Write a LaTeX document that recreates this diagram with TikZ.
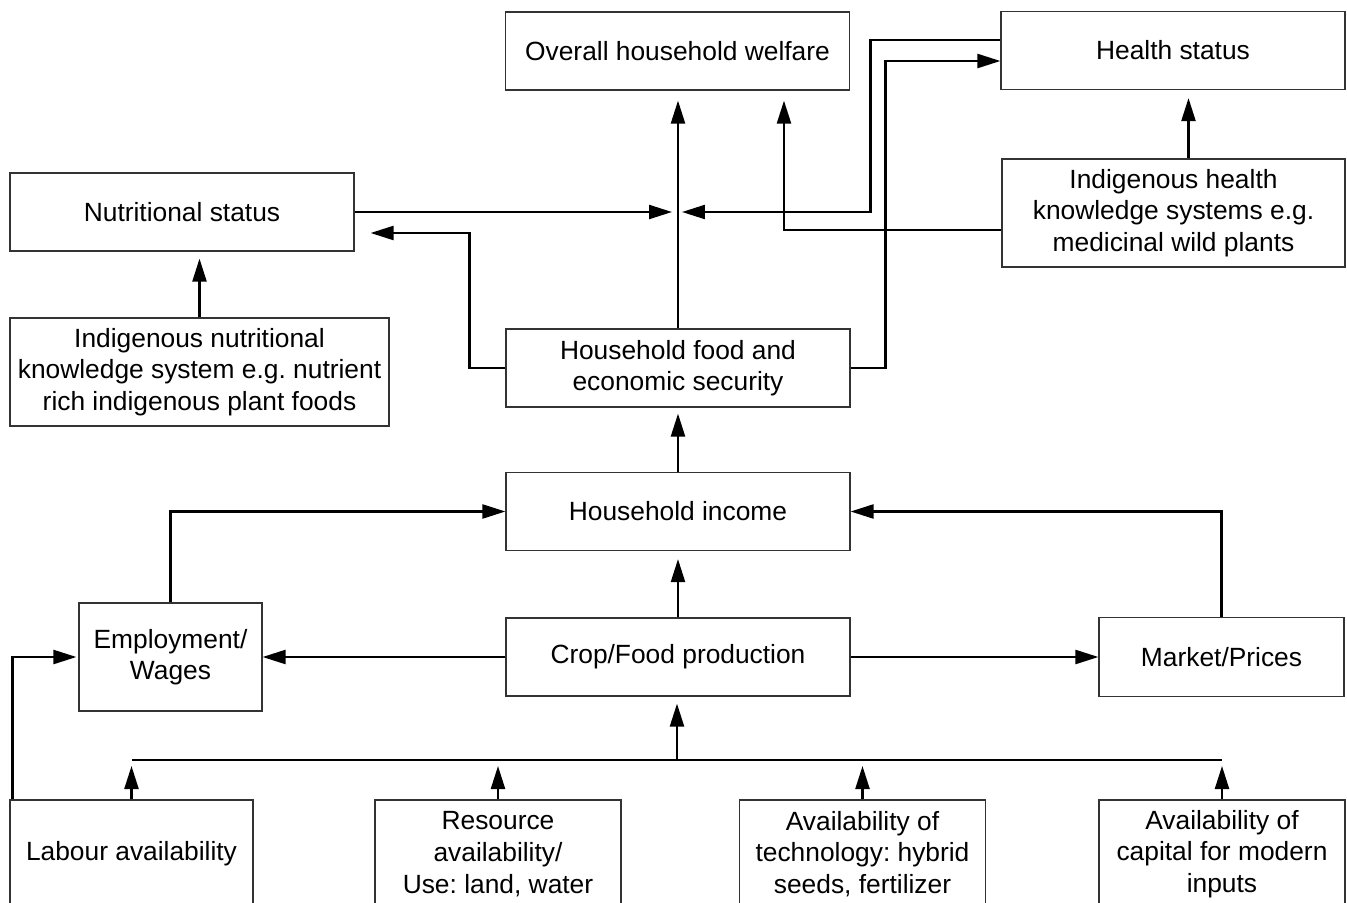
\documentclass[tikz,border=0pt]{standalone}
\usepackage{fontspec}
\setmainfont{Liberation Sans}
\usetikzlibrary{arrows.meta,calc,positioning}
\frenchspacing

\begin{document}
\begin{tikzpicture}[x=0.02cm,y=-0.02cm,>={Triangle[length=4.6mm,width=2.8mm]},
  blk/.style={draw=black!80,line width=0.7pt,align=center,inner sep=0pt,font=\fontsize{15}{18}\selectfont},
  wide/.style={blk,minimum width=6.88cm,minimum height=1.56cm},
  tall/.style={blk,minimum height=2.16cm},
  link/.style={->,line width=1.3pt}]
\useasboundingbox (0,0) rectangle (1347,903);
% top of the chain
\node[wide] (welfare) at (677.5,51) {Overall household welfare};
\node[wide] (health) at (1173,50.5) {Health status};
\node[wide] (nutri) at (182,212) {Nutritional status};
\node[tall,minimum width=6.86cm] (ihealth) at (1173.5,213) {Indigenous health\\knowledge systems e.g.\\medicinal wild plants};
\node[tall,minimum width=7.58cm] (inutri) at (199.5,372) {Indigenous nutritional\\knowledge system e.g. nutrient\\rich indigenous plant foods};
\node[wide] (food) at (678,368) {Household food and\\economic security};
% middle
\node[wide] (income) at (678,511.5) {Household income};
\node[tall,minimum width=3.66cm] (employ) at (170.5,657) {Employment/\\Wages};
\node[wide] (crop) at (678,657) {Crop/Food production};
\node[blk,minimum width=4.9cm,minimum height=1.58cm] (market) at (1221.5,657) {Market/Prices};
% inputs
\node[tall,minimum width=4.86cm] (labour) at (131.5,854) {Labour availability};
\node[tall,minimum width=4.92cm] (resource) at (498,854) {Resource\\availability/\\Use: land, water};
\node[tall,minimum width=4.92cm] (tech) at (862.5,854) {Availability of\\technology: hybrid\\seeds, fertilizer};
\node[tall,minimum width=4.92cm] (capital) at (1222,854) {Availability of\\capital for modern\\inputs};
\coordinate (hub) at (677,212);
\coordinate (bus) at (677,760);

\draw[link,shorten >=0.2cm] (food) -- (food |- welfare.south);
\draw[link,shorten >=0.1cm] (nutri.east) -- (hub);
\draw[link,shorten >=0.1cm] ([yshift=0.21cm]health.west) -- ++(-2.6cm,0) |- (hub);
\draw[link] (food.east) -- ++(0.7cm,0) |- ([yshift=-0.21cm]health.west);
\draw[link,shorten >=0.2cm] ([yshift=-0.34cm]ihealth.west) -| ([xshift=2.13cm]welfare.south);
\draw[link,shorten >=0.32cm] (food.west) -- ++(-0.72cm,0) |- ([yshift=-0.42cm]nutri.east);
\draw[link,shorten >=0.14cm] (inutri.north) -- (inutri.north |- nutri.south);
\draw[link,shorten >=0.16cm] ([xshift=0.3cm]ihealth.north) -- ([xshift=0.3cm]ihealth.north |- health.south);
\draw[link,shorten >=0.12cm] (income) -- (income |- food.south);
\draw[link,shorten >=0.16cm] (crop) -- (crop |- income.south);
\draw[link] (crop.west) -- (crop.west -| employ.east);
\draw[link] (crop.east) -- (crop.east -| market.west);
\draw[link] (employ.north) |- (income.west);
\draw[link] (market.north) |- (income.east);
\draw[link,shorten >=0.04cm] ([xshift=0.06cm]labour.north west) |- (employ.west);
% inputs into production
\draw[line width=1.3pt] (labour.north |- bus) -- (capital.north |- bus);
\draw[link,shorten >=0.14cm] (bus) -- (bus |- crop.south);
\foreach \n in {labour,resource,tech,capital}
  \draw[link,shorten >=0.12cm] (\n.north) -- (\n.north |- bus);
\end{tikzpicture}
\end{document}
